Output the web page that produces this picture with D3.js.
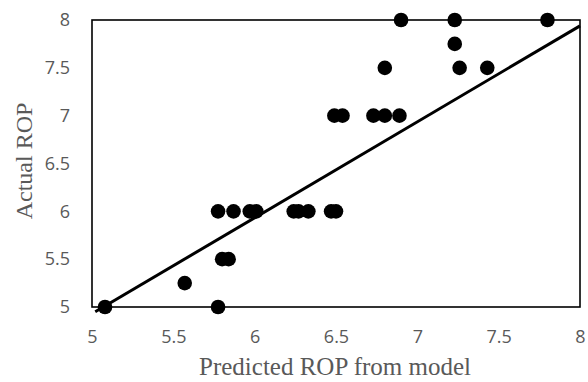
<!DOCTYPE html>
<html>
<head>
<meta charset="utf-8">
<script src="https://cdn.jsdelivr.net/npm/d3@7"></script>
<style>
  html, body { margin: 0; padding: 0; background: #fff; }
  svg { display: block; }
</style>
</head>
<body>
<svg id="chart" width="588" height="382"></svg>
<script>
// Predicted vs actual rate of penetration (ROP)
const predicted = [5.08, 5.57, 5.775, 5.80, 5.84, 5.775, 5.87, 5.97, 6.01, 6.24, 6.27, 6.33, 6.47, 6.50,
                   6.49, 6.54, 6.73, 6.80, 6.89, 6.80, 7.26, 7.43, 7.23, 6.90, 7.23, 7.80];
const actual    = [5, 5.25, 5, 5.5, 5.5, 6, 6, 6, 6, 6, 6, 6, 6, 6,
                   7, 7, 7, 7, 7, 7.5, 7.5, 7.5, 7.75, 8, 8, 8];

// Linear trend line: actual = slope * predicted + intercept
const trendSlope = 1.003;
const trendIntercept = -0.085;
const trendRange = [5.02, 8];

const xTicks = [5, 5.5, 6, 6.5, 7, 7.5, 8];
const yTicks = [5, 5.5, 6, 6.5, 7, 7.5, 8];

const W = 588, H = 382;
const margin = { top: 20, right: 8, bottom: 75, left: 92 };
const iw = W - margin.left - margin.right;
const ih = H - margin.top - margin.bottom;

const svg = d3.select("#chart");
const g = svg.append("g").attr("transform", `translate(${margin.left},${margin.top})`);

const x = d3.scaleLinear().domain([5, 8]).range([0, iw]);
const y = d3.scaleLinear().domain([5, 8]).range([ih, 0]);

// Tick labels only (no tick marks)
const xAxis = g.append("g")
  .attr("transform", `translate(0,${ih})`)
  .call(d3.axisBottom(x).tickValues(xTicks).tickSize(0).tickPadding(23).tickFormat(d3.format("")));
const yAxis = g.append("g")
  .call(d3.axisLeft(y).tickValues(yTicks).tickSize(0).tickPadding(22).tickFormat(d3.format("")));
[xAxis, yAxis].forEach(a => {
  a.select(".domain").remove();
  a.selectAll("text")
    .attr("fill", "#595959")
    .style("font-family", "'Open Sans', sans-serif")
    .style("font-size", "18px");
});

// Plot frame
g.append("rect")
  .attr("x", 0).attr("y", 0)
  .attr("width", iw).attr("height", ih)
  .attr("fill", "none")
  .attr("stroke", "#000")
  .attr("stroke-width", 1.6);

// Points
g.append("g").selectAll("circle")
  .data(predicted.map((p, i) => ({ p, a: actual[i] })))
  .join("circle")
  .attr("cx", d => x(d.p))
  .attr("cy", d => y(d.a))
  .attr("r", 7.3)
  .attr("fill", "#000");

// Trend line
const line = d3.line().x(d => x(d)).y(d => y(trendSlope * d + trendIntercept));
g.append("path")
  .datum(trendRange)
  .attr("d", line)
  .attr("fill", "none")
  .attr("stroke", "#000")
  .attr("stroke-width", 3);

// Axis titles
svg.append("text")
  .attr("x", margin.left + iw / 2 - 1)
  .attr("y", 375)
  .attr("text-anchor", "middle")
  .attr("fill", "#595959")
  .style("font-family", "'Liberation Serif', 'Times New Roman', serif")
  .style("font-size", "25px")
  .text("Predicted ROP from model");

svg.append("text")
  .attr("transform", "translate(32,161) rotate(-90)")
  .attr("text-anchor", "middle")
  .attr("fill", "#595959")
  .style("font-family", "'Liberation Serif', 'Times New Roman', serif")
  .style("font-size", "24px")
  .text("Actual ROP");
</script>
</body>
</html>
